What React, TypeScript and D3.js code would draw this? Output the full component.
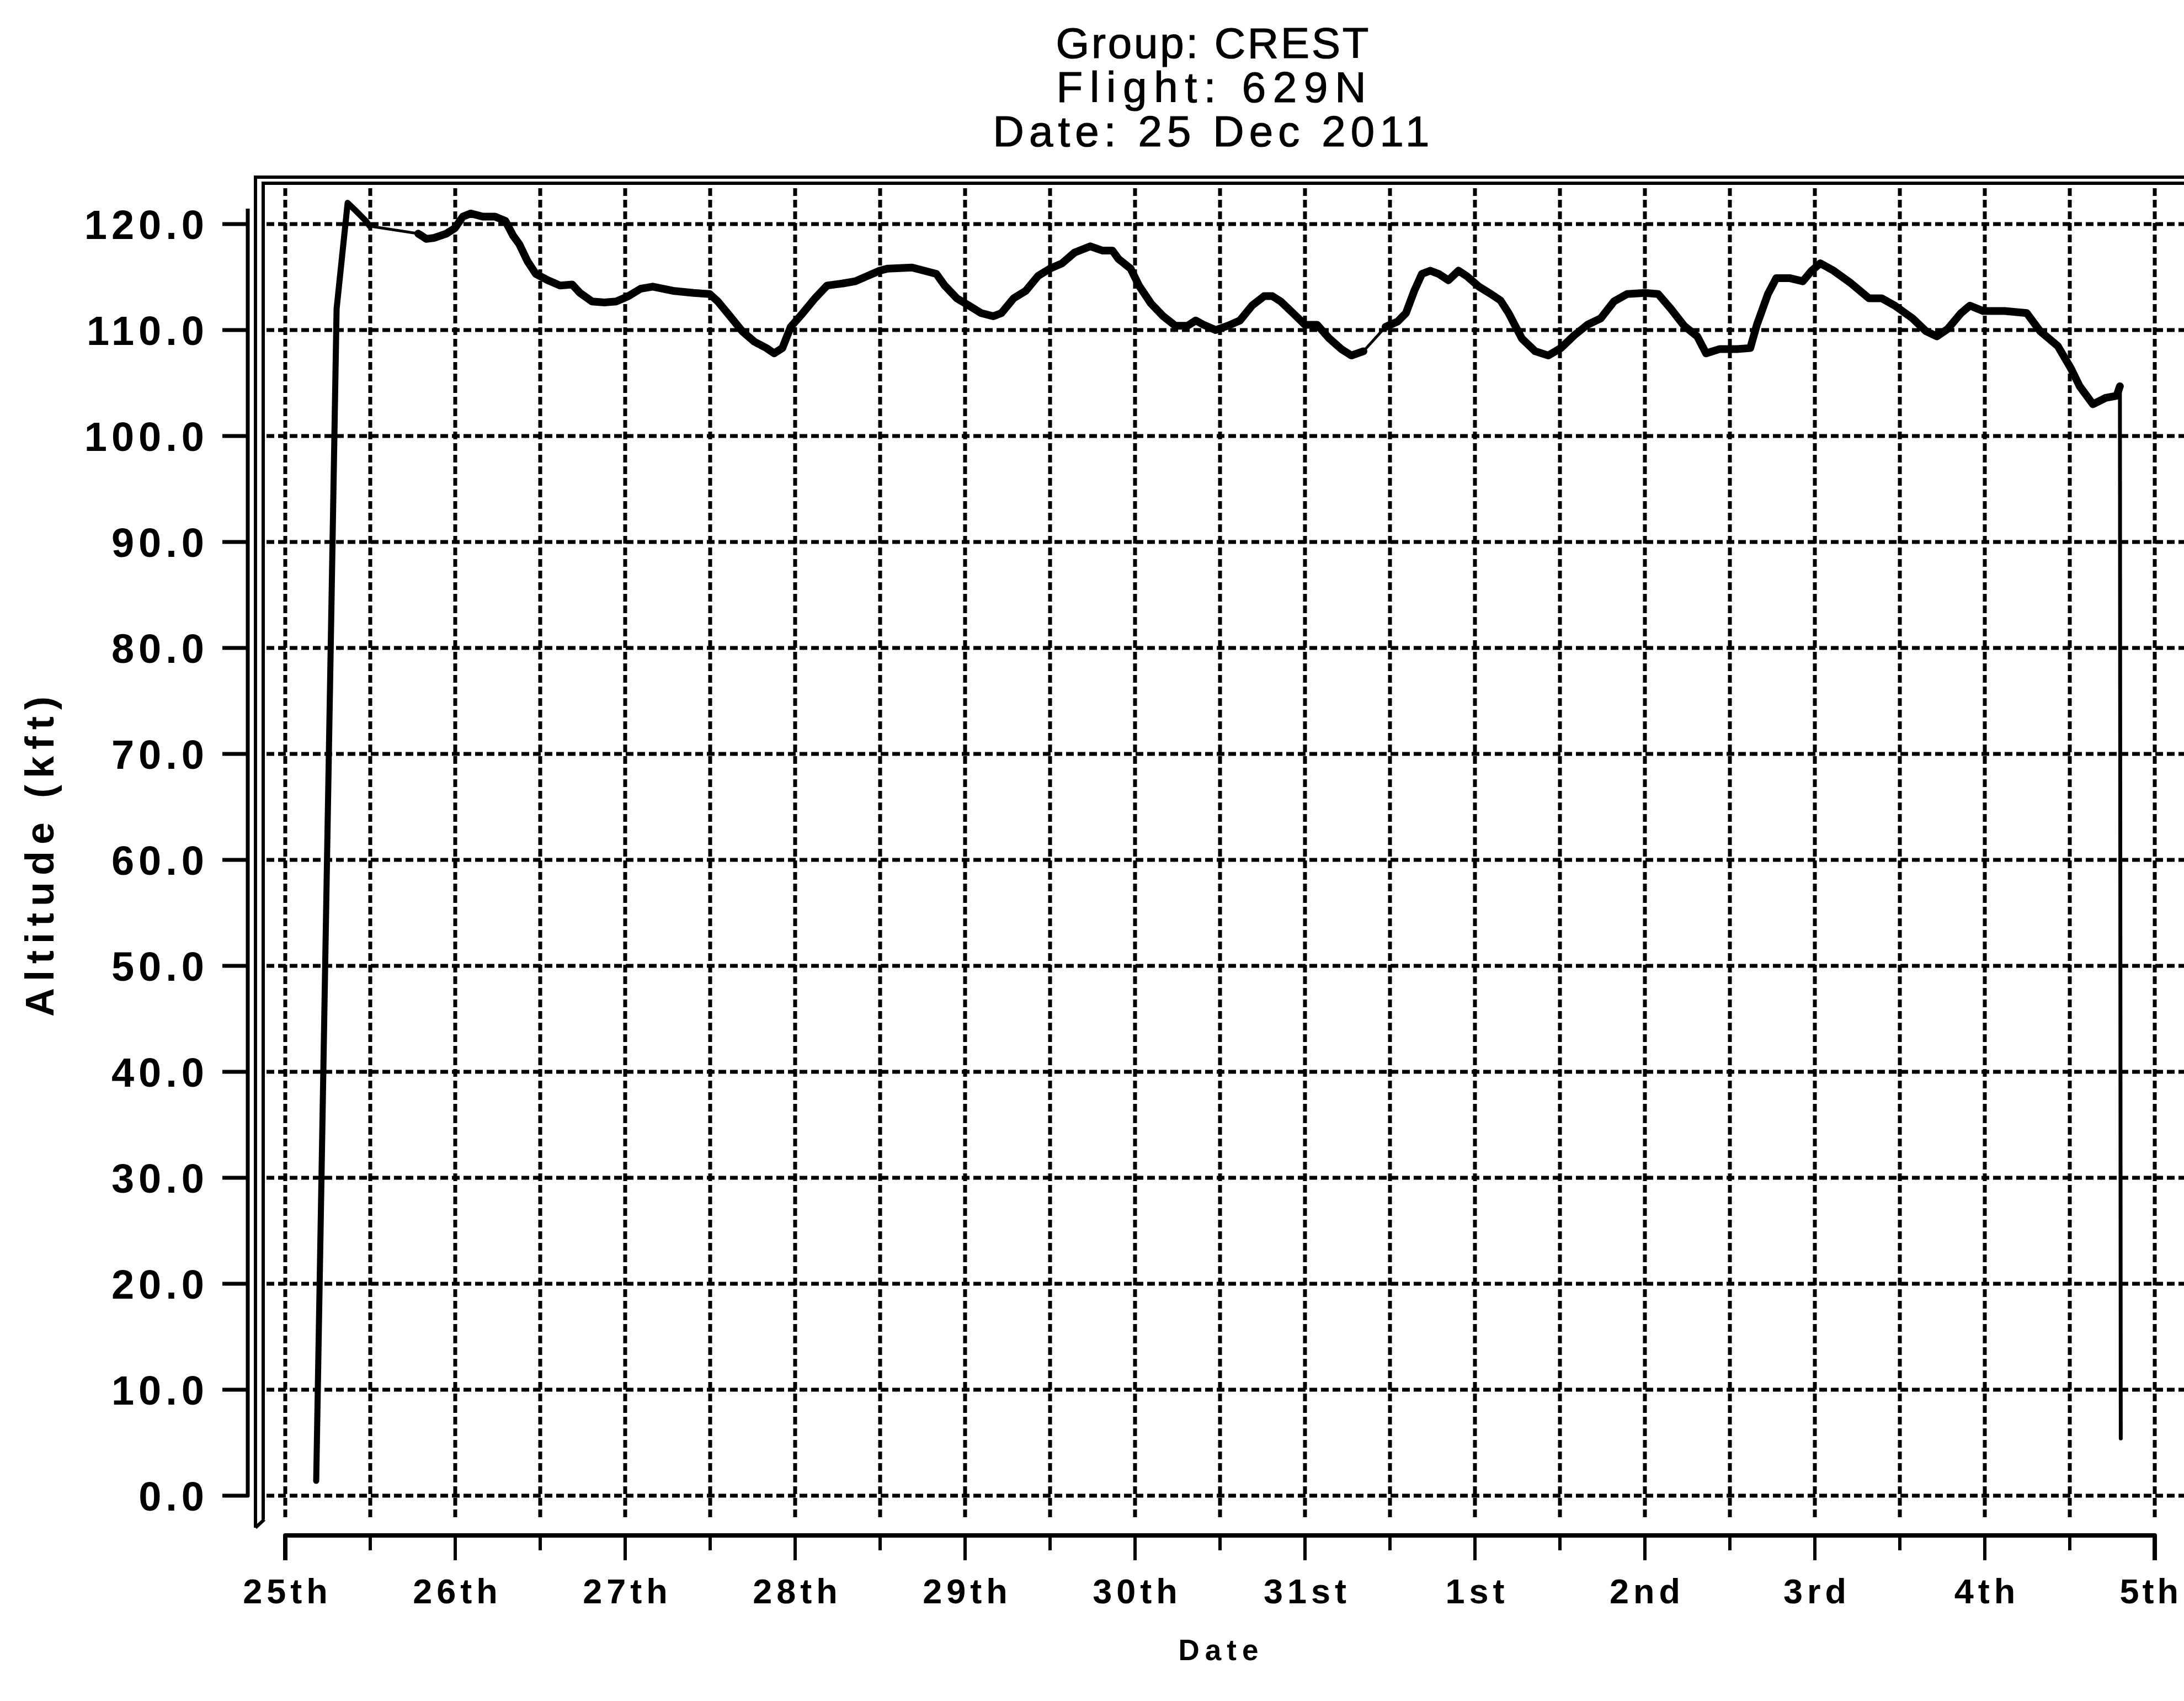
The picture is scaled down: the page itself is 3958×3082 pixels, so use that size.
import React from "react";
import * as d3 from "d3";

// ---- data ----
const titleLines = ["Group: CREST", "Flight: 629N", "Date: 25 Dec 2011"];
const xTickLabels = ["25th", "26th", "27th", "28th", "29th", "30th", "31st", "1st", "2nd", "3rd", "4th", "5th"];
const yTicks = [0, 10, 20, 30, 40, 50, 60, 70, 80, 90, 100, 110, 120];

// days since 25 Dec 00:00, altitude in kft
const launchDays = [0.182, 0.302, 0.341, 0.367, 0.412, 0.474, 0.497];
const launchAlt = [1.4, 112.0, 118.0, 122.0, 121.3, 120.3, 119.8];

const seg1Days = [0.782, 0.83, 0.877, 0.948, 0.997, 1.045, 1.091, 1.162, 1.234, 1.295, 1.341, 1.377, 1.425, 1.474, 1.545, 1.617, 1.688, 1.734, 1.805, 1.877, 1.948, 2.019, 2.091, 2.162, 2.282, 2.403, 2.497, 2.545, 2.617, 2.688, 2.76, 2.831, 2.877, 2.925, 2.974, 3.045, 3.117, 3.188, 3.282, 3.354, 3.425, 3.497, 3.545, 3.688, 3.76, 3.831, 3.88, 3.951, 4.023, 4.094, 4.166, 4.214, 4.286, 4.357, 4.429, 4.5, 4.571, 4.643, 4.737, 4.808, 4.867, 4.903, 4.974, 5.023, 5.094, 5.166, 5.237, 5.308, 5.357, 5.403, 5.474, 5.545, 5.617, 5.688, 5.76, 5.808, 5.857, 5.929, 6.0, 6.071, 6.143, 6.214, 6.273, 6.344];
const seg1Alt = [119.1, 118.6, 118.7, 119.1, 119.6, 120.7, 121.0, 120.7, 120.7, 120.3, 118.9, 118.1, 116.5, 115.3, 114.7, 114.2, 114.3, 113.5, 112.7, 112.6, 112.7, 113.2, 113.9, 114.1, 113.7, 113.5, 113.4, 112.7, 111.3, 109.9, 108.9, 108.3, 107.8, 108.3, 110.3, 111.6, 113.0, 114.2, 114.4, 114.6, 115.1, 115.6, 115.8, 115.9, 115.6, 115.3, 114.2, 113.0, 112.3, 111.6, 111.3, 111.6, 113.0, 113.7, 115.1, 115.8, 116.3, 117.3, 117.9, 117.5, 117.5, 116.7, 115.8, 114.2, 112.5, 111.3, 110.4, 110.4, 110.9, 110.5, 110.0, 110.4, 110.9, 112.3, 113.2, 113.2, 112.7, 111.6, 110.5, 110.5, 109.2, 108.2, 107.6, 108.0];

const seg2Days = [6.474, 6.545, 6.594, 6.643, 6.688, 6.737, 6.786, 6.844, 6.903, 6.951, 7.023, 7.094, 7.15, 7.198, 7.276, 7.354, 7.432, 7.506, 7.584, 7.662, 7.74, 7.818, 7.896, 8.0, 8.078, 8.153, 8.231, 8.308, 8.36, 8.438, 8.542, 8.62, 8.659, 8.724, 8.773, 8.851, 8.929, 8.981, 9.032, 9.11, 9.214, 9.318, 9.393, 9.471, 9.575, 9.653, 9.718, 9.782, 9.86, 9.912, 9.99, 10.117, 10.247, 10.325, 10.429, 10.506, 10.558, 10.636, 10.711, 10.776, 10.795];
const seg2Alt = [110.3, 110.8, 111.6, 113.7, 115.3, 115.6, 115.3, 114.7, 115.6, 115.1, 114.1, 113.4, 112.8, 111.6, 109.2, 108.0, 107.6, 108.3, 109.5, 110.5, 111.1, 112.7, 113.4, 113.5, 113.4, 112.0, 110.4, 109.4, 107.8, 108.2, 108.2, 108.3, 110.5, 113.4, 114.9, 114.9, 114.6, 115.6, 116.3, 115.6, 114.4, 113.0, 113.0, 112.3, 111.1, 109.9, 109.4, 110.1, 111.6, 112.3, 111.8, 111.8, 111.6, 109.9, 108.5, 106.4, 104.7, 103.0, 103.6, 103.8, 104.7];

const descentDays = [10.795, 10.8];
const descentAlt = [104.7, 5.4];

const W = 3958;
const H = 3082;
const FONT = "'Liberation Sans', Arial, Helvetica, sans-serif";

const zip = (a: number[], b: number[]) => a.map((v, i) => [v, b[i]] as [number, number]);

export default function App() {
  const x = d3.scaleLinear().domain([0, 11]).range([517, 3905]);
  const y = d3.scaleLinear().domain([0, 120]).range([2710, 406]);
  const line = d3.line<[number, number]>().x((d) => x(d[0])).y((d) => y(d[1]));

  const launch = zip(launchDays, launchAlt);
  const seg1 = zip(seg1Days, seg1Alt);
  const seg2 = zip(seg2Days, seg2Alt);
  const descent = zip(descentDays, descentAlt);
  const gap1: [number, number][] = [launch[launch.length - 1], seg1[0]];
  const gap2: [number, number][] = [seg1[seg1.length - 1], seg2[0]];

  const halfDays = d3.range(0, 11.001, 0.5);
  const gridTop = 335;
  const gridBottom = 2752;
  const axisY = 2782;
  const yAxisX = 449;

  const outerL = 463, outerT = 321, outerB = 2768;
  const innerL = 477, innerT = 332, innerB = 2753;

  const lsX = 8;
  const lsY = 8;

  return (
    <svg
      width={W}
      height={H}
      viewBox={`0 0 ${W} ${H}`}
      style={{ position: "absolute", left: 0, top: 0, background: "#fff" }}
      fontFamily={FONT}
    >
      <rect x={0} y={0} width={W} height={H} fill="#fff" />

      {/* title */}
      <g fill="#000" textAnchor="middle" fontSize={78} stroke="#000" strokeWidth={1.2}>
        <text x={2197} y={105} textLength={567} lengthAdjust="spacing">{titleLines[0]}</text>
        <text x={2195} y={185} textLength={561} lengthAdjust="spacing">{titleLines[1]}</text>
        <text x={2195} y={265} textLength={791} lengthAdjust="spacing">{titleLines[2]}</text>
      </g>

      {/* frame */}
      <g fill="none" stroke="#000" strokeWidth={6}>
        <path d={`M${outerL},${outerB} L${outerL},${outerT} L${W + 10},${outerT}`} />
        <path d={`M${innerL},${innerB} L${innerL},${innerT} L${W + 10},${innerT}`} />
        <path d={`M${outerL},${outerB} L${innerL + 2},${innerB}`} />
      </g>

      {/* grid */}
      <g stroke="#000" strokeWidth={7} strokeDasharray="14 7" fill="none">
        {yTicks.map((t) => (
          <line key={"h" + t} x1={innerL + 6} x2={W} y1={y(t)} y2={y(t)} />
        ))}
        {halfDays.map((d) => (
          <line key={"v" + d} x1={x(d)} x2={x(d)} y1={gridTop + 6} y2={gridBottom} />
        ))}
      </g>

      {/* y axis */}
      <g stroke="#000" strokeWidth={7} fill="none">
        <path d={`M${yAxisX},378 L${yAxisX},${y(0)} L403,${y(0)}`} strokeLinejoin="round" />
        {yTicks.slice(1).map((t) => (
          <line key={"yt" + t} x1={403} x2={yAxisX} y1={y(t)} y2={y(t)} />
        ))}
      </g>
      <g fill="#000" fontWeight="bold" fontSize={74} textAnchor="end" letterSpacing={lsY}>
        {yTicks.map((t) => (
          <text key={"yl" + t} x={370 + lsY} y={y(t) + 27}>
            {d3.format(".1f")(t)}
          </text>
        ))}
      </g>

      {/* x axis */}
      <g stroke="#000" fill="none">
        <path d={`M${x(0)},${axisY + 45} L${x(0)},${axisY} L${x(11)},${axisY} L${x(11)},${axisY + 45}`} strokeWidth={8} strokeLinejoin="round" />
        {halfDays.map((d) => (
          <line
            key={"xt" + d}
            x1={x(d)}
            x2={x(d)}
            y1={axisY}
            y2={Number.isInteger(d) ? axisY + 45 : axisY + 27}
            strokeWidth={6}
          />
        ))}
      </g>
      <g fill="#000" fontWeight="bold" fontSize={63} textAnchor="middle" letterSpacing={lsX}>
        {xTickLabels.map((lab, i) =>
          i === xTickLabels.length - 1 ? (
            <text key={lab} x={W - 4} y={2905} textAnchor="end" letterSpacing={6}>
              {lab}
            </text>
          ) : (
            <text key={lab} x={x(i) + lsX / 2} y={2905}>
              {lab}
            </text>
          )
        )}
      </g>

      {/* axis titles */}
      <text x={2208} y={3008} fontSize={53} fontWeight="bold" textAnchor="middle" textLength={145} lengthAdjust="spacing">
        Date
      </text>
      <text
        transform="translate(97,1552) rotate(-90)"
        fontSize={72}
        fontWeight="bold"
        textAnchor="middle"
        textLength={580}
        lengthAdjust="spacing"
      >
        Altitude (kft)
      </text>

      {/* data */}
      <g fill="none" stroke="#000" strokeLinejoin="round" strokeLinecap="round">
        <path d={line(launch) || ""} strokeWidth={11} />
        <path d={line(gap1) || ""} strokeWidth={5} />
        <path d={line(seg1) || ""} strokeWidth={14} />
        <path d={line(gap2) || ""} strokeWidth={5} />
        <path d={line(seg2) || ""} strokeWidth={14} />
        <path d={line(descent) || ""} strokeWidth={7} />
      </g>
    </svg>
  );
}
